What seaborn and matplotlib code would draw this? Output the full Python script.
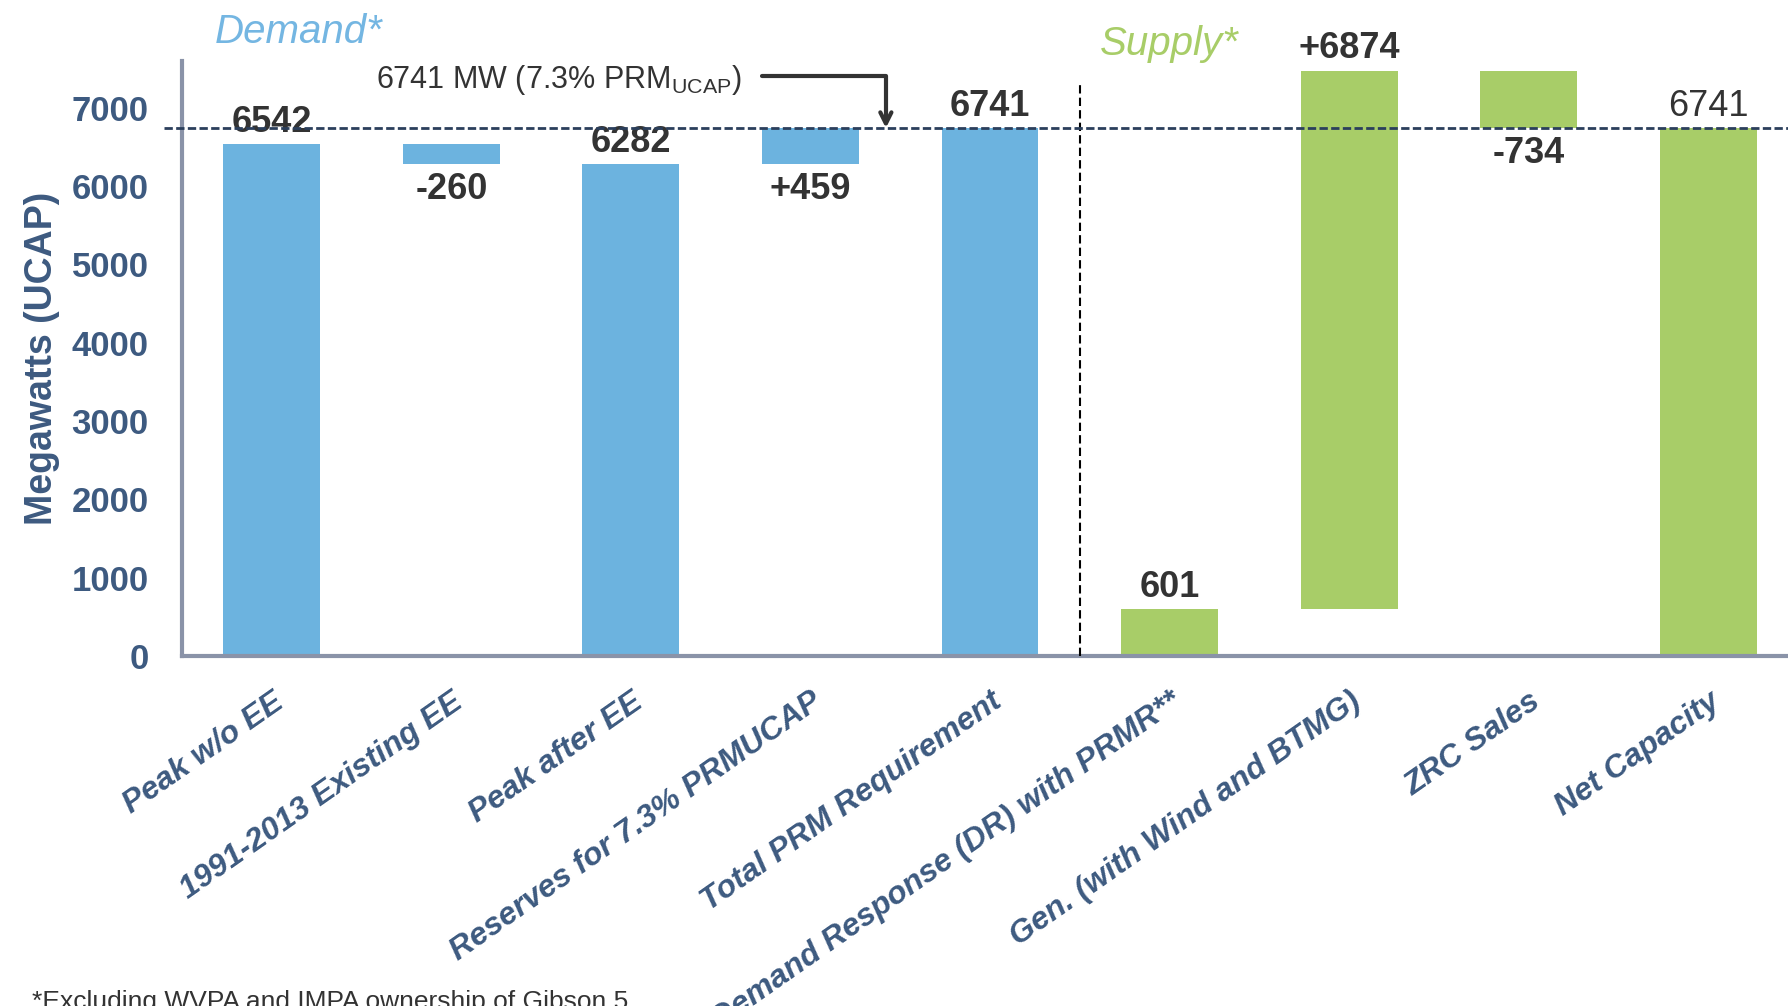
import numpy as np
import pandas as pd
import matplotlib.pyplot as plt
import seaborn as sns

# categories and waterfall values (MW, UCAP)
categories = ["Peak w/o EE", "1991-2013 Existing EE", "Peak after EE",
              "Reserves for 7.3% PRMUCAP", "Total PRM Requirement",
              "Demand Response (DR) with PRMR**", "Gen. (with Wind and BTMG)",
              "ZRC Sales", "Net Capacity"]
groups = ["Demand", "Demand", "Demand", "Demand", "Demand",
          "Supply", "Supply", "Supply", "Supply"]
bar_bottom = [0, 6282, 0, 6282, 0, 0, 601, 6741, 0]
bar_height = [6542, 260, 6282, 459, 6741, 601, 6874, 734, 6741]
value_labels = ["6542", "-260", "6282", "+459", "6741", "601", "+6874", "-734", "6741"]
label_side = ["above", "below", "above", "below", "above", "above", "above", "below", "above"]
label_bold = [True, True, True, True, True, True, True, True, False]
prm_line = 6741

blue = "#6cb3df"
green = "#a8cd68"
navy = "#3d5a80"
dark = "#333333"

sns.set_style("white")
plt.rcParams["font.family"] = ["Liberation Sans", "DejaVu Sans"]
plt.rcParams["mathtext.fontset"] = "custom"
plt.rcParams["mathtext.rm"] = "Liberation Sans"

df = pd.DataFrame({"category": categories, "group": groups,
                   "bottom": bar_bottom, "height": bar_height})

fig = plt.figure(figsize=(17.88, 10.06), dpi=100)
ax = fig.add_axes([0.1018, 0.348, 0.9038, 0.5915])

#Demand bars and supply bars, floating on their bottoms
for grp, col in [("Demand", blue), ("Supply", green)]:
    sub = df[df["group"] == grp]
    sns.barplot(data=sub, x="category", y="height", order=categories, color=col,
                width=0.54, errorbar=None, bottom=sub["bottom"].to_numpy(),
                saturation=1, linewidth=0, ax=ax)

ax.set_xlim(-0.5, 8.5)
ax.set_ylim(0, 7600)

#Value labels
for i, (b, h) in enumerate(zip(bar_bottom, bar_height)):
    if label_side[i] == "above":
        y, off, va = b + h, 3, "bottom"
    else:
        y, off, va = b, -6, "top"
    ax.annotate(value_labels[i], (i, y), xytext=(0, off), textcoords="offset points",
                ha="center", va=va, fontsize=26, color=dark,
                fontweight="bold" if label_bold[i] else "normal")

#PRM line and demand/supply divider
ax.axhline(prm_line, xmin=-0.011, xmax=1, color="#2b3f5c", lw=2, ls=(0, (3, 1.2)),
           clip_on=False, zorder=5)
ax.vlines(4.5, 0, 7290, color="black", lw=1.5, ls=(0, (4, 2)), zorder=4)

ax.text(0.58, 7360, "6741 MW (7.3% PRM$_{\\mathrm{UCAP}}$)", ha="left", va="center",
        fontsize=22, color=dark)
ax.annotate("", xy=(3.42, prm_line), xytext=(2.73, 7405),
            arrowprops=dict(arrowstyle="->,head_length=0.8,head_width=0.4",
                            connectionstyle="angle,angleA=0,angleB=90,rad=0",
                            lw=3, color=dark, shrinkA=0, shrinkB=0))

#Axes styling
for s in ["top", "right"]:
    ax.spines[s].set_visible(False)
for s in ["left", "bottom"]:
    ax.spines[s].set_color("#8a93a8")
    ax.spines[s].set_linewidth(3)

ax.set_yticks(range(0, 8000, 1000))
ax.tick_params(axis="y", direction="out", length=9, width=2, color="#8a93a8",
               labelsize=25, labelcolor=navy, pad=15)
for t in ax.get_yticklabels():
    t.set_fontweight("bold")

ax.set_xticks(range(len(categories)))
ax.set_xticklabels(categories, rotation=35, ha="right", rotation_mode="anchor",
                   fontsize=23, fontweight="bold", fontstyle="italic", color=navy)
ax.set_xticks(np.arange(-0.5, len(categories), 1), minor=True)
ax.tick_params(axis="x", which="major", length=0, pad=22)
ax.tick_params(axis="x", which="minor", direction="out", length=12, width=2, color="#8a93a8")

ax.set_xlabel("")
ax.set_ylabel("Megawatts (UCAP)", fontsize=27, fontweight="bold", color=navy, labelpad=8)

fig.text(0.12, 0.968, "Demand*", fontsize=29, fontstyle="italic", color="#74b6e2",
         ha="left", va="center")
fig.text(0.615, 0.956, "Supply*", fontsize=29, fontstyle="italic", color="#a8cd68",
         ha="left", va="center")
fig.text(0.018, 0.016, "*Excluding WVPA and IMPA ownership of Gibson 5", fontsize=19,
         color=dark, ha="left", va="top")

plt.savefig("out.png", dpi=100)
